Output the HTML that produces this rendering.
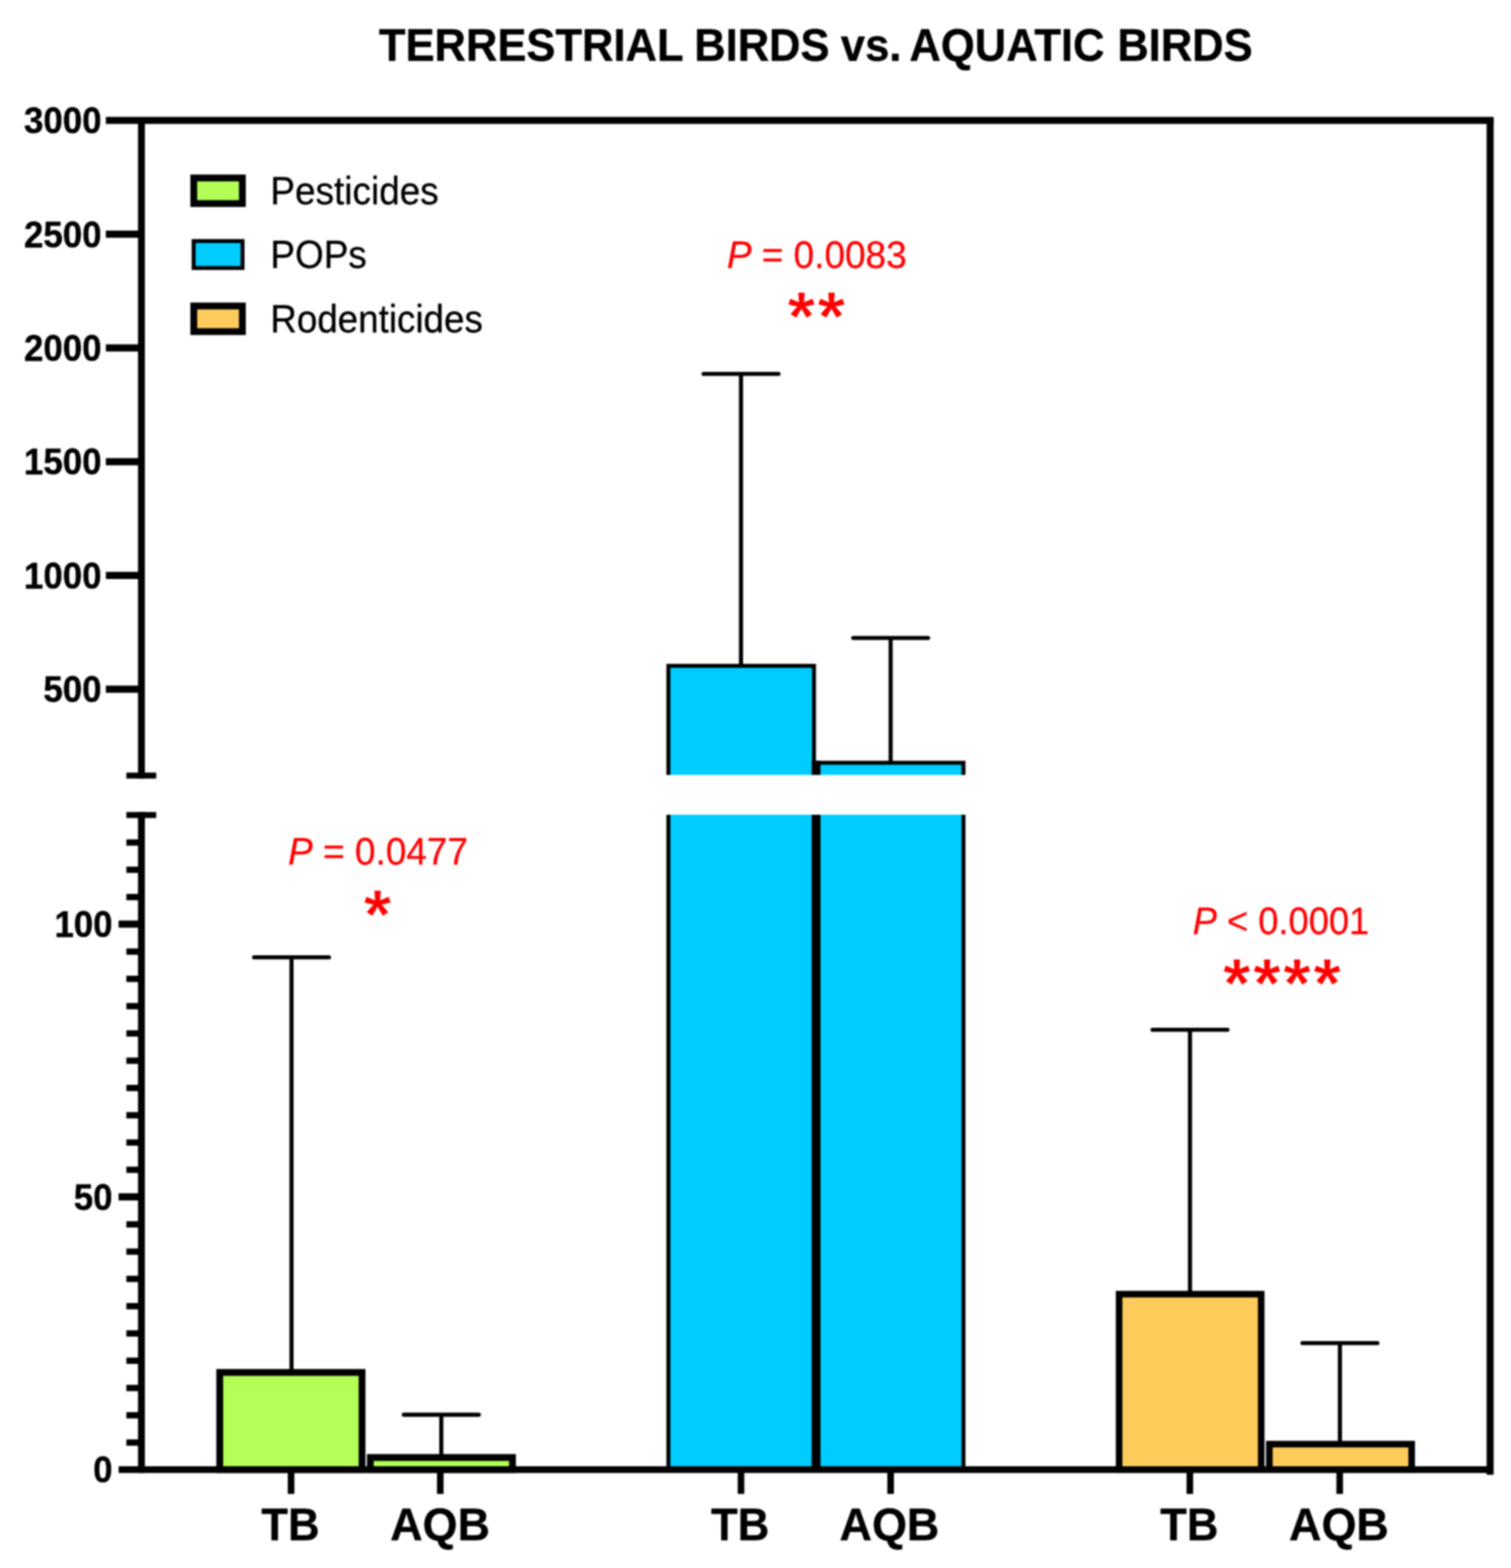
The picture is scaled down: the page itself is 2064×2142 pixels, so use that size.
<!DOCTYPE html>
<html lang="en"><head><meta charset="utf-8">
<title>TERRESTRIAL BIRDS vs. AQUATIC BIRDS</title>
<style>
html,body{margin:0;padding:0;background:#fff;}
body{width:2064px;height:2142px;overflow:hidden;}
svg{display:block;}
text{font-family:"Liberation Sans",Arial,Helvetica,sans-serif;}
.tick{font-weight:bold;text-anchor:end;stroke:#000;stroke-width:0.5px;}
.xl{font-weight:bold;text-anchor:middle;stroke:#000;stroke-width:0.4px;}
.lg{stroke:#000;stroke-width:0.35px;}
.pv{fill:#ff0000;text-anchor:middle;stroke:#ff0000;stroke-width:0.35px;}
.st{font-weight:bold;fill:#ff0000;text-anchor:middle;stroke:#ffffff;stroke-width:1.3px;paint-order:fill stroke;}
.ttl{font-weight:bold;stroke:#000;stroke-width:0.5px;}
</style></head><body>
<svg width="2064" height="2142" viewBox="0 0 2064 2142">
<defs><filter id="soft" filterUnits="userSpaceOnUse" x="0" y="0" width="2064" height="2142" color-interpolation-filters="sRGB"><feGaussianBlur stdDeviation="0.90"/></filter></defs>
<g filter="url(#soft)">
<rect x="-20" y="-20" width="2104" height="2182" fill="#ffffff"/>
<text class="ttl" transform="translate(0.00 83.10) scale(1.0000 1.0650)" font-size="59.45"><tspan x="517.60">TERRESTRIAL</tspan> <tspan x="948.20">BIRDS</tspan> <tspan x="1148.60">vs.</tspan> <tspan x="1242.30">AQUATIC</tspan> <tspan x="1526.20">BIRDS</tspan></text>
<g id="errors">
<path d="M398.20 1874.00V1307.70" stroke="#000" stroke-width="5.60" fill="none"/>
<path d="M347.00 1307.70H449.40" stroke="#000" stroke-width="5.60" stroke-linecap="round" fill="none"/>
<path d="M602.80 1990.00V1932.60" stroke="#000" stroke-width="5.60" fill="none"/>
<path d="M551.60 1932.60H654.00" stroke="#000" stroke-width="5.60" stroke-linecap="round" fill="none"/>
<path d="M1012.20 910.00V510.80" stroke="#000" stroke-width="5.60" fill="none"/>
<path d="M961.00 510.80H1063.40" stroke="#000" stroke-width="5.60" stroke-linecap="round" fill="none"/>
<path d="M1216.60 1043.00V871.50" stroke="#000" stroke-width="5.60" fill="none"/>
<path d="M1165.40 871.50H1267.80" stroke="#000" stroke-width="5.60" stroke-linecap="round" fill="none"/>
<path d="M1625.50 1767.00V1406.70" stroke="#000" stroke-width="5.60" fill="none"/>
<path d="M1574.30 1406.70H1676.70" stroke="#000" stroke-width="5.60" stroke-linecap="round" fill="none"/>
<path d="M1830.30 1972.00V1834.80" stroke="#000" stroke-width="5.60" fill="none"/>
<path d="M1779.10 1834.80H1881.50" stroke="#000" stroke-width="5.60" stroke-linecap="round" fill="none"/>
</g>
<g id="bars">
<rect x="300.15" y="1874.85" width="194.40" height="132.75" fill="#b3ff57" stroke="#000" stroke-width="9.30"/>
<rect x="505.85" y="1991.05" width="194.20" height="16.55" fill="#b3ff57" stroke="#000" stroke-width="9.30"/>
<rect x="913.00" y="909.60" width="198.90" height="1098.00" fill="#00ccff" stroke="#000" stroke-width="5.40"/>
<rect x="1117.30" y="1042.00" width="198.80" height="965.60" fill="#00ccff" stroke="#000" stroke-width="5.40"/>
<rect x="1528.70" y="1767.90" width="194.10" height="239.70" fill="#ffcc5c" stroke="#000" stroke-width="9.00"/>
<rect x="1733.90" y="1972.80" width="194.40" height="34.80" fill="#ffcc5c" stroke="#000" stroke-width="9.00"/>
</g>
<rect x="1108.7" y="1039.3" width="12.1" height="968.30" fill="#000"/>
<rect x="900" y="1058.60" width="430" height="54.40" fill="#ffffff"/>
<g id="axes" fill="#000">
<rect x="144.6" y="159.70" width="1895.70" height="9.60"/>
<rect x="2030.70" y="164.50" width="9.60" height="1850.10"/>
<rect x="162" y="2003.00" width="1873.50" height="9.20"/>
<rect x="188.50" y="164.50" width="9.40" height="899.00"/>
<rect x="188.50" y="1109.40" width="9.40" height="902.80"/>
<rect x="172.6" y="1055.40" width="40.8" height="8.2"/>
<rect x="172.6" y="1109.30" width="40.8" height="8.2"/>
<rect x="144.6" y="315.00" width="48.60" height="9.8"/>
<rect x="144.6" y="470.40" width="48.60" height="9.8"/>
<rect x="144.6" y="625.80" width="48.60" height="9.8"/>
<rect x="144.6" y="781.20" width="48.60" height="9.8"/>
<rect x="144.6" y="936.60" width="48.60" height="9.8"/>
<rect x="162" y="1257.50" width="31.20" height="9.8"/>
<rect x="162" y="1630.10" width="31.20" height="9.8"/>
<rect x="172.6" y="1966.34" width="20.60" height="8.6"/>
<rect x="172.6" y="1929.08" width="20.60" height="8.6"/>
<rect x="172.6" y="1891.82" width="20.60" height="8.6"/>
<rect x="172.6" y="1854.56" width="20.60" height="8.6"/>
<rect x="172.6" y="1817.30" width="20.60" height="8.6"/>
<rect x="172.6" y="1780.04" width="20.60" height="8.6"/>
<rect x="172.6" y="1742.78" width="20.60" height="8.6"/>
<rect x="172.6" y="1705.52" width="20.60" height="8.6"/>
<rect x="172.6" y="1668.26" width="20.60" height="8.6"/>
<rect x="172.6" y="1593.74" width="20.60" height="8.6"/>
<rect x="172.6" y="1556.48" width="20.60" height="8.6"/>
<rect x="172.6" y="1519.22" width="20.60" height="8.6"/>
<rect x="172.6" y="1481.96" width="20.60" height="8.6"/>
<rect x="172.6" y="1444.70" width="20.60" height="8.6"/>
<rect x="172.6" y="1407.44" width="20.60" height="8.6"/>
<rect x="172.6" y="1370.18" width="20.60" height="8.6"/>
<rect x="172.6" y="1332.92" width="20.60" height="8.6"/>
<rect x="172.6" y="1295.66" width="20.60" height="8.6"/>
<rect x="172.6" y="1221.14" width="20.60" height="8.6"/>
<rect x="172.6" y="1183.88" width="20.60" height="8.6"/>
<rect x="172.6" y="1146.62" width="20.60" height="8.6"/>
<rect x="393.10" y="2007.60" width="9.0" height="33.20"/>
<rect x="596.90" y="2007.60" width="9.0" height="33.20"/>
<rect x="1007.70" y="2007.60" width="9.0" height="33.20"/>
<rect x="1212.10" y="2007.60" width="9.0" height="33.20"/>
<rect x="1620.80" y="2007.60" width="9.0" height="33.20"/>
<rect x="1825.50" y="2007.60" width="9.0" height="33.20"/>
</g>
<g id="ylabels">
<text class="tick" transform="translate(138.60 182.10) scale(1.0000 1.0600)" font-size="47.60">3000</text>
<text class="tick" transform="translate(138.60 337.50) scale(1.0000 1.0600)" font-size="47.60">2500</text>
<text class="tick" transform="translate(138.60 492.90) scale(1.0000 1.0600)" font-size="47.60">2000</text>
<text class="tick" transform="translate(138.60 648.30) scale(1.0000 1.0600)" font-size="47.60">1500</text>
<text class="tick" transform="translate(138.60 803.70) scale(1.0000 1.0600)" font-size="47.60">1000</text>
<text class="tick" transform="translate(138.60 959.10) scale(1.0000 1.0600)" font-size="47.60">500</text>
<text class="tick" transform="translate(153.80 1280.00) scale(1.0000 1.0600)" font-size="47.60">100</text>
<text class="tick" transform="translate(153.80 1652.60) scale(1.0000 1.0600)" font-size="47.60">50</text>
<text class="tick" transform="translate(153.80 2025.20) scale(1.0000 1.0600)" font-size="47.60">0</text>
</g>
<g id="xlabels">
<text class="xl" transform="translate(396.80 2103.60) scale(0.9880 1.0400)" font-size="60.50">TB</text>
<text class="xl" transform="translate(601.20 2103.60) scale(1.0140 1.0400)" font-size="60.50">AQB</text>
<text class="xl" transform="translate(1011.10 2103.60) scale(0.9880 1.0400)" font-size="60.50">TB</text>
<text class="xl" transform="translate(1215.00 2103.60) scale(1.0140 1.0400)" font-size="60.50">AQB</text>
<text class="xl" transform="translate(1624.60 2103.60) scale(0.9880 1.0400)" font-size="60.50">TB</text>
<text class="xl" transform="translate(1829.00 2103.60) scale(1.0140 1.0400)" font-size="60.50">AQB</text>
</g>
<g id="legend">
<rect x="264.70" y="243.10" width="66.40" height="35.00" fill="#b3ff57" stroke="#000" stroke-width="9.30"/>
<rect x="264.50" y="329.30" width="66.80" height="36.80" fill="#00ccff" stroke="#000" stroke-width="5.40"/>
<rect x="264.70" y="418.00" width="66.40" height="35.00" fill="#ffcc5c" stroke="#000" stroke-width="9.30"/>
<text class="lg" transform="translate(369.20 279.10) scale(1.0000 1.0500)" font-size="50.50">Pesticides</text>
<text class="lg" transform="translate(369.20 366.20) scale(1.0000 1.0500)" font-size="50.50">POPs</text>
<text class="lg" transform="translate(369.20 454.20) scale(0.9950 1.0500)" font-size="50.50">Rodenticides</text>
</g>
<g id="annotations">
<text class="pv" transform="translate(516.40 1181.00) scale(1.0000 1.0400)" font-size="50.50"><tspan font-style="italic">P</tspan> = 0.0477</text>
<text class="st" transform="translate(517.40 1282.60) scale(1.0000 1.0000)" font-size="97.00" letter-spacing="3.40">*</text>
<text class="pv" transform="translate(1115.70 366.00) scale(1.0000 1.0400)" font-size="50.50"><tspan font-style="italic">P</tspan> = 0.0083</text>
<text class="st" transform="translate(1116.80 465.90) scale(1.0000 1.0000)" font-size="97.00" letter-spacing="3.40">**</text>
<text class="pv" transform="translate(1749.80 1276.00) scale(0.9810 1.0400)" font-size="50.50"><tspan font-style="italic">P</tspan> &lt; 0.0001</text>
<text class="st" transform="translate(1752.80 1377.10) scale(1.0000 1.0000)" font-size="97.00" letter-spacing="3.40">****</text>
</g>
</g>
</svg>
</body></html>
